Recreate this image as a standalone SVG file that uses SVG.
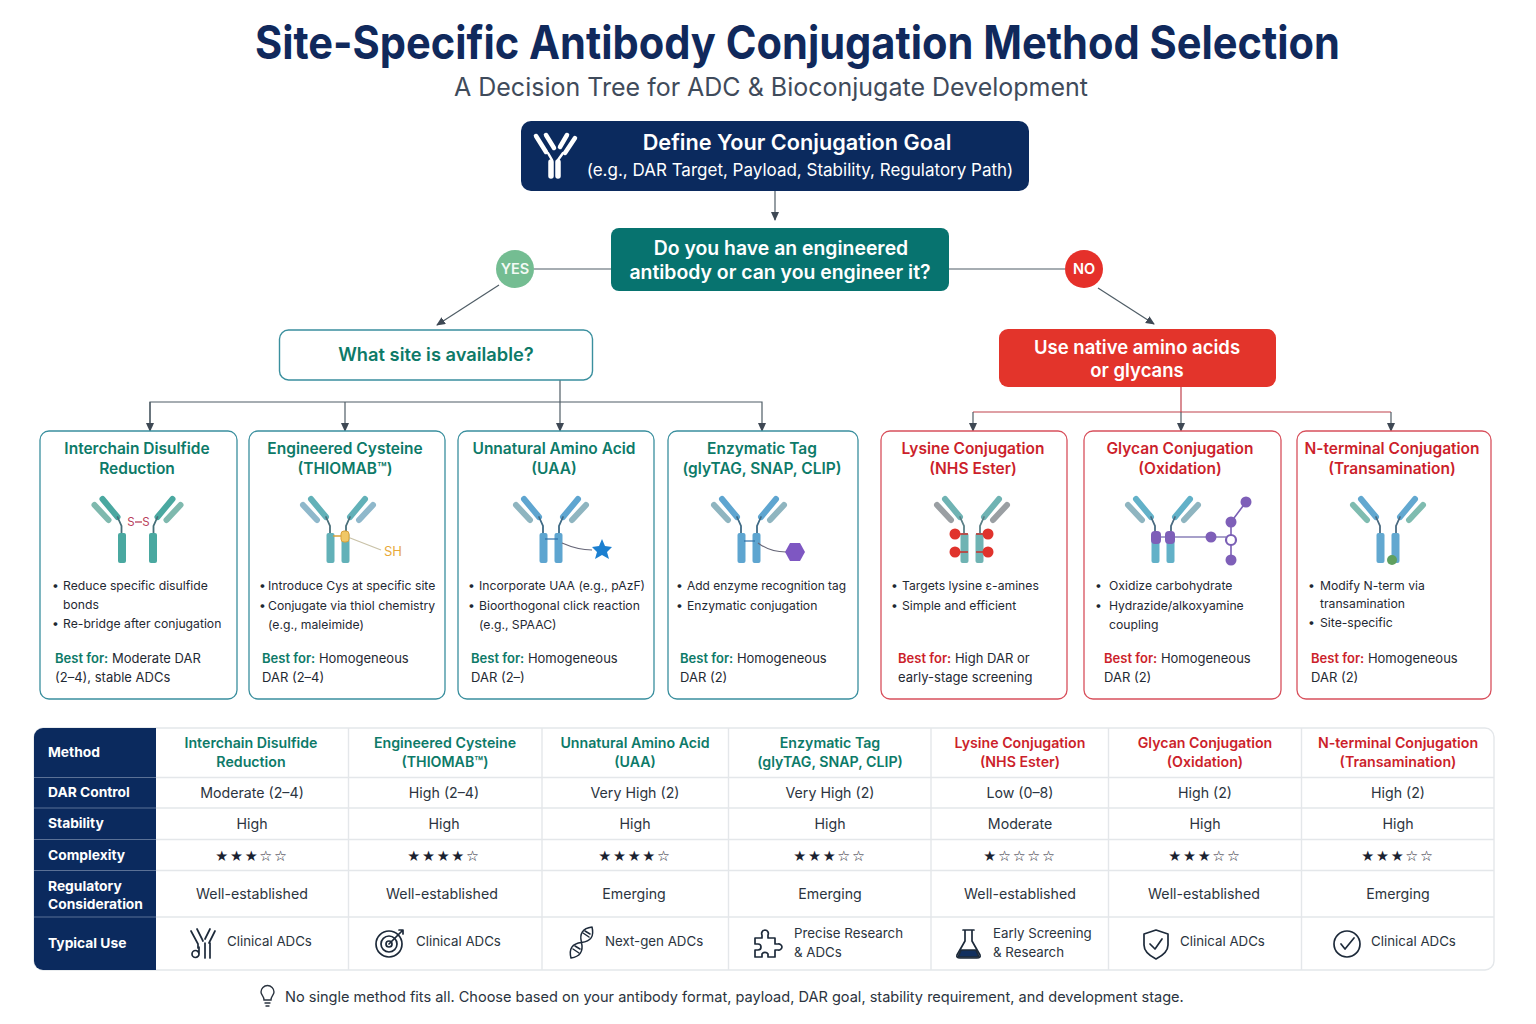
<svg xmlns="http://www.w3.org/2000/svg" width="1536" height="1024" viewBox="0 0 1536 1024">
<style>
text{font-family:Inter,"Liberation Sans",sans-serif}
.c{text-anchor:middle}
.ct{font-size:15.5px;font-weight:600;text-anchor:middle}
.g{fill:#0d7a68}.r{fill:#cc1f2b}
.b{font-size:12.2px;fill:#1f2933}
.bf{font-size:13px;fill:#1f2933}
.bfg{font-weight:600;fill:#0d7a68}.bfr{font-weight:600;fill:#cc1f2b}
.card{fill:#fff;stroke-width:1.3}
.cg{stroke:#3a8f9e}.cr{stroke:#d8505c}
.th{font-size:14.2px;font-weight:600;text-anchor:middle}
.td{font-size:14.2px;fill:#2b3440;text-anchor:middle}
.tl{font-size:13.8px;font-weight:700;fill:#fff}
.s{font-family:"DejaVu Sans",sans-serif;font-size:14.5px;fill:#1a2230;text-anchor:middle;letter-spacing:1.7px}
.tu{font-size:13.3px;fill:#2b3440}
.conn{fill:none;stroke:#4f5d66;stroke-width:1.2}
.grid{stroke:#e4e7ea;stroke-width:1.4;fill:none}
.ic{fill:none;stroke:#1d2a3a;stroke-width:1.7;stroke-linecap:round;stroke-linejoin:round}
.ab{fill:none;stroke-linecap:round}
</style>
<defs>
<marker id="ah" markerWidth="10" markerHeight="10" refX="8" refY="4" orient="auto" markerUnits="userSpaceOnUse"><path d="M0 0L9 4L0 8Z" fill="#3e4854"/></marker>
<g id="half">
<line class="ab" x1="-27" y1="2" x2="-12" y2="20" stroke="var(--a)" stroke-width="6"/>
<line class="ab" x1="-35" y1="8" x2="-21" y2="23" stroke="var(--b)" stroke-width="6"/>
<path class="ab" d="M-12 20L-8 29V38" stroke="var(--n)" stroke-width="1.8"/>
<rect x="-11.500" y="36" width="8" height="30" rx="2" fill="var(--a)"/>
</g>
</defs>
<rect width="1536" height="1024" fill="#fff"/>
<text id="title" x="797.500" y="59" class="c" font-size="46" font-weight="700" fill="#10295c" textLength="1085" lengthAdjust="spacingAndGlyphs">Site-Specific Antibody Conjugation Method Selection</text>
<text id="subtitle" x="771" y="96" class="c" font-size="25" fill="#3f4b5b">A Decision Tree for ADC &amp; Bioconjugate Development</text>

<g id="connectors">
<path class="conn" d="M775 191V220" marker-end="url(#ah)"/>
<path class="conn" d="M534 269H611"/>
<path class="conn" d="M949 269H1065"/>
<path class="conn" d="M499 285L437 325" marker-end="url(#ah)"/>
<path class="conn" d="M1098 288L1154 324" marker-end="url(#ah)"/>
<path class="conn" d="M560 380V431" marker-end="url(#ah)"/>
<path class="conn" d="M150 431V402H762V431" marker-end="url(#ah)"/>
<path class="conn" d="M150 402V431" marker-end="url(#ah)"/>
<path class="conn" d="M345 402V431" marker-end="url(#ah)"/>
<path class="conn" style="stroke:#c0424c" d="M1181 387V412M973 412H1391"/>
<path class="conn" d="M973 412V431" marker-end="url(#ah)"/>
<path class="conn" d="M1181 412V431" marker-end="url(#ah)"/>
<path class="conn" d="M1391 412V431" marker-end="url(#ah)"/>
</g>

<g id="goal">
<rect x="521" y="121" width="508" height="70" rx="10" fill="#0b2a5e"/>
<g fill="none" stroke="#fff" stroke-linecap="round">
<path d="M536 136L546 152M546 135L554 148M575 138L565 153M567 135L560 147" stroke-width="4.500"/>
<path d="M548 153L552 160M563 153L558 160" stroke-width="2.500"/>
<path d="M551 162V176M558 162V176" stroke-width="5.500"/>
</g>
<text x="797" y="150" class="c" font-size="21.7" font-weight="600" fill="#fff">Define Your Conjugation Goal</text>
<text x="800" y="176" class="c" font-size="17" fill="#fff">(e.g., DAR Target, Payload, Stability, Regulatory Path)</text>
</g>
<g id="question">
<rect x="611" y="228" width="338" height="63" rx="8" fill="#07736f"/>
<text x="781" y="255" class="c" font-size="19.4" font-weight="600" fill="#fff">Do you have an engineered</text>
<text x="780" y="279" class="c" font-size="19.4" font-weight="600" fill="#fff">antibody or can you engineer it?</text>
</g>
<g id="yes"><circle cx="515" cy="269" r="19" fill="#74bd92"/><text x="515" y="274" class="c" font-size="14.500" font-weight="600" fill="#f2faf5">YES</text></g>
<g id="no"><circle cx="1084" cy="269" r="19" fill="#e5302a"/><text x="1084" y="274" class="c" font-size="14.500" font-weight="600" fill="#fff">NO</text></g>
<g id="site">
<rect x="279.500" y="330" width="313" height="50" rx="9" fill="#fff" stroke="#3a8f9e" stroke-width="1.4"/>
<text x="436" y="361" class="c" font-size="18.300" font-weight="600" fill="#0d7a68">What site is available?</text>
</g>
<g id="native">
<rect x="999" y="329" width="277" height="58" rx="9" fill="#e3342b"/>
<text x="1137" y="354" class="c" font-size="18.500" font-weight="600" fill="#fff">Use native amino acids</text>
<text x="1137" y="377" class="c" font-size="18.500" font-weight="600" fill="#fff">or glycans</text>
</g>

<g id="card-disulfide">
<rect class="card cg" x="40" y="431" width="197" height="268" rx="9"/>
<text class="ct g" x="137" y="454">Interchain Disulfide</text><text class="ct g" x="137" y="474">Reduction</text>
<g style="--a:#4aa8a0;--b:#7fb9ae;--n:#456f78">
<use href="#half" transform="translate(129.500,497)"/><use href="#half" transform="translate(145.500,497) scale(-1,1)"/>
</g>
<path d="M135 522H142" stroke="#b8405a" stroke-width="1.3"/>
<text x="131" y="526" class="c" font-size="11.500" fill="#b8405a">S</text><text x="146" y="526" class="c" font-size="11.500" fill="#b8405a">S</text>
<text class="b" x="52" y="590">•</text><text class="b" x="63" y="590">Reduce specific disulfide</text>
<text class="b" x="63" y="609">bonds</text>
<text class="b" x="52" y="628">•</text><text class="b" x="63" y="628">Re-bridge after conjugation</text>
<text class="bf" x="55" y="663"><tspan class="bfg">Best for:</tspan> Moderate DAR</text>
<text class="bf" x="55" y="682">(2–4), stable ADCs</text>
</g>

<g id="card-cysteine">
<rect class="card cg" x="249" y="431" width="196" height="268" rx="9"/>
<text class="ct g" x="345" y="454">Engineered Cysteine</text><text class="ct g" x="345" y="474">(THIOMAB™)</text>
<g style="--a:#62b1b8;--b:#8fb8cb;--n:#4a6f7a">
<use href="#half" transform="translate(338,497)"/><use href="#half" transform="translate(338,497) scale(-1,1)"/>
</g>
<path d="M345 536L381 550" stroke="#c9c2a8" stroke-width="1.3"/>
<path d="M333 536H345" stroke="#d9a13a" stroke-width="1.5"/>
<rect x="341" y="531" width="8" height="11" rx="3" fill="#f0c766" stroke="#d9a13a"/>
<text x="393" y="556" class="c" font-size="13" fill="#e8a93a">SH</text>
<text class="b" x="259" y="590">•</text><text class="b" x="268" y="590">Introduce Cys at specific site</text>
<text class="b" x="259" y="610">•</text><text class="b" x="268" y="610">Conjugate via thiol chemistry</text>
<text class="b" x="268" y="629">(e.g., maleimide)</text>
<text class="bf" x="262" y="663"><tspan class="bfg">Best for:</tspan> Homogeneous</text>
<text class="bf" x="262" y="682">DAR (2–4)</text>
</g>

<g id="card-uaa">
<rect class="card cg" x="458" y="431" width="196" height="268" rx="9"/>
<text class="ct g" x="554" y="454">Unnatural Amino Acid</text><text class="ct g" x="554" y="474">(UAA)</text>
<g style="--a:#5ea5d0;--b:#8fb5c0;--n:#3f6a85">
<use href="#half" transform="translate(551,497)"/><use href="#half" transform="translate(551,497) scale(-1,1)"/>
</g>
<path d="M545 539H558" stroke="#2c6fa8" stroke-width="1.2"/>
<path d="M562 543Q578 550 592 550" fill="none" stroke="#667" stroke-width="1.1"/>
<path d="M602 539L605 546L612 547L607 552L609 559L602 555L595 559L597 552L592 547L599 546Z" fill="#1b7fd0"/>
<text class="b" x="468" y="590">•</text><text class="b" x="479" y="590">Incorporate UAA (e.g., pAzF)</text>
<text class="b" x="468" y="610">•</text><text class="b" x="479" y="610">Bioorthogonal click reaction</text>
<text class="b" x="479" y="629">(e.g., SPAAC)</text>
<text class="bf" x="471" y="663"><tspan class="bfg">Best for:</tspan> Homogeneous</text>
<text class="bf" x="471" y="682">DAR (2–)</text>
</g>

<g id="card-enzymatic">
<rect class="card cg" x="668" y="431" width="190" height="268" rx="9"/>
<text class="ct g" x="762" y="454">Enzymatic Tag</text><text class="ct g" x="762" y="474">(glyTAG, SNAP, CLIP)</text>
<g style="--a:#5ea5d0;--b:#8fb5c0;--n:#3f6a85">
<use href="#half" transform="translate(749,497)"/><use href="#half" transform="translate(749,497) scale(-1,1)"/>
</g>
<path d="M744 541H755" stroke="#2c6fa8" stroke-width="1.2"/>
<path d="M758 543Q770 552 786 552" fill="none" stroke="#667" stroke-width="1.1"/>
<path d="M790 543L800 543L805 552L800 561L790 561L785 552Z" fill="#7e57c2"/>
<text class="b" x="676" y="590">•</text><text class="b" x="687" y="590" textLength="159" lengthAdjust="spacingAndGlyphs">Add enzyme recognition tag</text>
<text class="b" x="676" y="610">•</text><text class="b" x="687" y="610">Enzymatic conjugation</text>
<text class="bf" x="680" y="663"><tspan class="bfg">Best for:</tspan> Homogeneous</text>
<text class="bf" x="680" y="682">DAR (2)</text>
</g>

<g id="card-lysine">
<rect class="card cr" x="881" y="431" width="186" height="268" rx="9"/>
<text class="ct r" x="973" y="454">Lysine Conjugation</text><text class="ct r" x="973" y="474">(NHS Ester)</text>
<g style="--a:#6fb3b3;--b:#9a9fa3;--n:#5a7f86">
<use href="#half" transform="translate(972,497)"/><use href="#half" transform="translate(972,497) scale(-1,1)"/>
</g>
<path d="M955 534H968M955 552H968M976 534H988M976 552H988" stroke="#c9302c" stroke-width="1.4"/>
<g fill="#e0332c"><circle cx="955" cy="534" r="5.500"/><circle cx="988" cy="534" r="5.500"/><circle cx="955" cy="552" r="5.500"/><circle cx="988" cy="552" r="5.500"/></g>
<text class="b" x="891" y="590">•</text><text class="b" x="902" y="590">Targets lysine ε-amines</text>
<text class="b" x="891" y="610">•</text><text class="b" x="902" y="610">Simple and efficient</text>
<text class="bf" x="898" y="663"><tspan class="bfr">Best for:</tspan> High DAR or</text>
<text class="bf" x="898" y="682">early-stage screening</text>
</g>

<g id="card-glycan">
<rect class="card cr" x="1084" y="431" width="197" height="268" rx="9"/>
<text class="ct r" x="1180" y="454">Glycan Conjugation</text><text class="ct r" x="1180" y="474">(Oxidation)</text>
<g style="--a:#62b1c8;--b:#8fb5c0;--n:#4a6a80">
<use href="#half" transform="translate(1163,497)"/><use href="#half" transform="translate(1163,497) scale(-1,1)"/>
</g>
<g stroke="#8a80b8" stroke-width="1.3" fill="none"><path d="M1156 537H1226"/></g>
<g stroke="#7a5fb5" stroke-width="1.6" fill="none"><path d="M1231 540V522L1246 502M1231 540V560"/></g>
<g fill="#7e5fb8"><rect x="1151" y="531" width="10" height="13" rx="4"/><rect x="1165" y="531" width="10" height="13" rx="4"/><circle cx="1211" cy="537" r="5.500"/><circle cx="1231" cy="522" r="5.500"/><circle cx="1246" cy="502" r="5.500"/><circle cx="1231" cy="560" r="5.500"/></g>
<circle cx="1231" cy="540" r="5" fill="#fff" stroke="#7a5fb5" stroke-width="2.200"/>
<text class="b" x="1095" y="590">•</text><text class="b" x="1109" y="590">Oxidize carbohydrate</text>
<text class="b" x="1095" y="610">•</text><text class="b" x="1109" y="610">Hydrazide/alkoxyamine</text>
<text class="b" x="1109" y="629">coupling</text>
<text class="bf" x="1104" y="663"><tspan class="bfr">Best for:</tspan> Homogeneous</text>
<text class="bf" x="1104" y="682">DAR (2)</text>
</g>

<g id="card-nterm">
<rect class="card cr" x="1297" y="431" width="194" height="268" rx="9"/>
<text class="ct r" x="1392" y="454">N-terminal Conjugation</text><text class="ct r" x="1392" y="474">(Transamination)</text>
<g style="--a:#62a8d0;--b:#7fbcb0;--n:#4a6a80">
<use href="#half" transform="translate(1388,497)"/><use href="#half" transform="translate(1388,497) scale(-1,1)"/>
</g>
<circle cx="1392" cy="560" r="5" fill="#5fa05f"/>
<text class="b" x="1308" y="590">•</text><text class="b" x="1320" y="590">Modify N-term via</text>
<text class="b" x="1320" y="608">transamination</text>
<text class="b" x="1308" y="627">•</text><text class="b" x="1320" y="627">Site-specific</text>
<text class="bf" x="1311" y="663"><tspan class="bfr">Best for:</tspan> Homogeneous</text>
<text class="bf" x="1311" y="682">DAR (2)</text>
</g>

<g id="table">
<rect x="34" y="728" width="1460" height="242" rx="9" fill="#fff" stroke="#e4e7ea" stroke-width="1.4"/>
<path d="M156 728H43a9 9 0 0 0-9 9V961a9 9 0 0 0 9 9H156Z" fill="#0b2a5e"/>
<path d="M34 777.500H156M34 808H156M34 839.500H156M34 870.500H156M34 917H156" stroke="#5b7196" stroke-width="1"/>
<path class="grid" d="M156 777.500H1494M156 808H1494M156 839.500H1494M156 870.500H1494M156 917H1494M348.500 728V970M542 728V970M728.500 728V970M931 728V970M1108.500 728V970M1301.500 728V970"/>
<text class="tl" x="48" y="757">Method</text><text class="tl" x="48" y="797">DAR Control</text><text class="tl" x="48" y="828">Stability</text><text class="tl" x="48" y="860">Complexity</text><text class="tl" x="48" y="891">Regulatory</text><text class="tl" x="48" y="909">Consideration</text><text class="tl" x="48" y="948">Typical Use</text>

<text class="th g" x="251" y="748">Interchain Disulfide</text><text class="th g" x="251" y="767">Reduction</text>
<text class="th g" x="445" y="748">Engineered Cysteine</text><text class="th g" x="445" y="767">(THIOMAB™)</text>
<text class="th g" x="635" y="748">Unnatural Amino Acid</text><text class="th g" x="635" y="767">(UAA)</text>
<text class="th g" x="830" y="748">Enzymatic Tag</text><text class="th g" x="830" y="767">(glyTAG, SNAP, CLIP)</text>
<text class="th r" x="1020" y="748">Lysine Conjugation</text><text class="th r" x="1020" y="767">(NHS Ester)</text>
<text class="th r" x="1205" y="748">Glycan Conjugation</text><text class="th r" x="1205" y="767">(Oxidation)</text>
<text class="th r" x="1398" y="748">N-terminal Conjugation</text><text class="th r" x="1398" y="767">(Transamination)</text>

<text class="td" x="252" y="798">Moderate (2–4)</text><text class="td" x="444" y="798">High (2–4)</text><text class="td" x="635" y="798">Very High (2)</text><text class="td" x="830" y="798">Very High (2)</text><text class="td" x="1020" y="798">Low (0–8)</text><text class="td" x="1205" y="798">High (2)</text><text class="td" x="1398" y="798">High (2)</text>
<text class="td" x="252" y="829">High</text><text class="td" x="444" y="829">High</text><text class="td" x="635" y="829">High</text><text class="td" x="830" y="829">High</text><text class="td" x="1020" y="829">Moderate</text><text class="td" x="1205" y="829">High</text><text class="td" x="1398" y="829">High</text>

<text class="s" x="252" y="861">★★★☆☆</text><text class="s" x="444" y="861">★★★★☆</text><text class="s" x="635" y="861">★★★★☆</text><text class="s" x="830" y="861">★★★☆☆</text><text class="s" x="1020" y="861">★☆☆☆☆</text><text class="s" x="1205" y="861">★★★☆☆</text><text class="s" x="1398" y="861">★★★☆☆</text>

<text class="td" x="252" y="899">Well-established</text><text class="td" x="442" y="899">Well-established</text><text class="td" x="634" y="899">Emerging</text><text class="td" x="830" y="899">Emerging</text><text class="td" x="1020" y="899">Well-established</text><text class="td" x="1204" y="899">Well-established</text><text class="td" x="1398" y="899">Emerging</text>

<g id="icon-antibody" class="ic"><path d="M191 931L198 944V948M197 929L203 941M215 931L209 943M210 929L205 939"/><path d="M199 947V954a3.500 3.500 0 0 1-7 0 3.500 3.500 0 0 1 7 0M205 943V958M210 943V958"/></g>
<text class="tu" x="227" y="946">Clinical ADCs</text>
<g id="icon-target" class="ic"><circle cx="389" cy="944" r="13"/><circle cx="389" cy="944" r="8"/><circle cx="389" cy="944" r="3"/><path d="M389 944L402 931M399 930H403V934"/></g>
<text class="tu" x="416" y="946">Clinical ADCs</text>
<g id="icon-dna" class="ic" style="stroke-width:1.5"><path d="M571 958Q584.500 956 581.500 942.500Q578 929 592 927M571 958Q567.500 944 581.500 942.500Q595.500 941 592 927"/><path d="M573 949L579 953M575 946L580 949M583 933L589 937M585 931L590 934"/></g>
<text class="tu" x="605" y="946">Next-gen ADCs</text>
<g id="icon-puzzle" class="ic"><path d="M755 938H762V935a3.500 3.500 0 0 1 3-5 3.500 3.500 0 0 1 3 5V938H775V944H778a3.500 3.500 0 0 1 4 3 3.500 3.500 0 0 1-4 3H775V957H768V954a3.500 3.500 0 0 0-6 0V957H755V950H758a3 3 0 0 0 0-6H755Z"/></g>
<text class="tu" x="794" y="938">Precise Research</text><text class="tu" x="794" y="957">&amp; ADCs</text>
<g id="icon-flask" class="ic"><path d="M963 930H974M965 930V941L957 955Q956 958 960 958H977Q981 958 980 955L972 941V930"/><path d="M961 950H976L979 957H958Z" fill="#12305f"/></g>
<text class="tu" x="993" y="938">Early Screening</text><text class="tu" x="993" y="957">&amp; Research</text>
<g id="icon-shield" class="ic"><path d="M1156 930L1168 934V945C1168 952 1162 956 1156 959C1150 956 1144 952 1144 945V934Z"/><path d="M1150 944L1155 949L1162 939"/></g>
<text class="tu" x="1180" y="946">Clinical ADCs</text>
<g id="icon-check" class="ic"><circle cx="1347" cy="944" r="13"/><path d="M1341 944L1345 949L1354 938"/></g>
<text class="tu" x="1371" y="946">Clinical ADCs</text>
</g>

<g id="footer">
<g fill="none" stroke="#2b3440" stroke-width="1.4" stroke-linecap="round"><path d="M264 1000C264 996 261 995 261 992A6.500 6.500 0 0 1 274 992C274 995 271 996 271 1000ZM265 1003H270M266 1006H269"/></g>
<text x="285" y="1002" font-size="14.550" fill="#2b3440">No single method fits all. Choose based on your antibody format, payload, DAR goal, stability requirement, and development stage.</text>
</g>
</svg>
